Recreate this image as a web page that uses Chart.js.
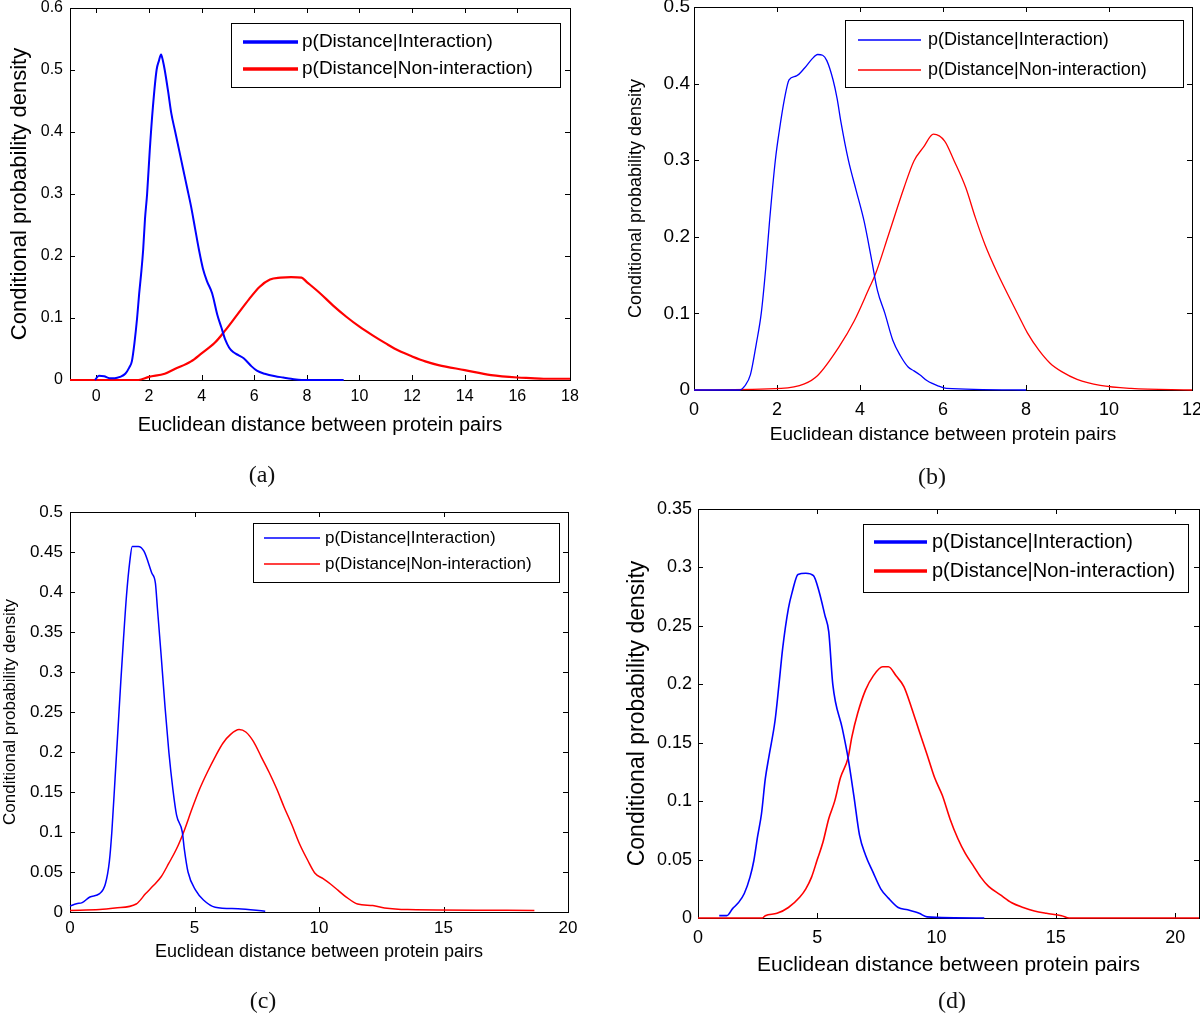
<!DOCTYPE html>
<html lang="en">
<head>
<meta charset="UTF-8">
<title>Conditional probability density of protein pair distances</title>
<script src="https://cdn.jsdelivr.net/npm/chart.js@4.4.1/dist/chart.umd.min.js"></script>
<style>
  html, body { margin: 0; padding: 0; background: #fff; overflow: hidden; }
  body { width: 1200px; height: 1020px; position: relative; }
  canvas { position: absolute; }
  .cap { position: absolute; font-family: "Liberation Serif", "Times New Roman", serif; font-size: 24px; color: #111; transform: translate(-50%, -50%); }
</style>
</head>
<body>
<canvas id="chart-a"></canvas>
<canvas id="chart-b"></canvas>
<canvas id="chart-c"></canvas>
<canvas id="chart-d"></canvas>
<div class="cap" style="left:262px;top:474px">(a)</div>
<div class="cap" style="left:932px;top:476px">(b)</div>
<div class="cap" style="left:263px;top:1000px">(c)</div>
<div class="cap" style="left:952px;top:1000px">(d)</div>

<script>
const LABEL_INT = 'p(Distance|Interaction)';
const LABEL_NON = 'p(Distance|Non-interaction)';
const X_TITLE = 'Euclidean distance between protein pairs';
const Y_TITLE = 'Conditional probability density';

// panel (a)
const aIntX = [-0.05, 0.1, 0.3, 0.5, 0.7, 0.9, 1.1, 1.25, 1.35, 1.45, 1.55, 1.63, 1.7, 1.78, 1.85, 1.93, 2.03, 2.15, 2.29, 2.38, 2.46, 2.53, 2.6, 2.73, 2.85, 3.0, 3.15, 3.3, 3.45, 3.6, 3.75, 3.9, 4.05, 4.2, 4.4, 4.6, 4.75, 4.9, 5.05, 5.2, 5.4, 5.6, 5.9, 6.1, 6.4, 6.8, 7.1, 7.4, 7.8, 8.5, 9.4];
const aIntY = [0, 0.007, 0.006, 0.003, 0.003, 0.005, 0.01, 0.02, 0.03, 0.06, 0.1, 0.14, 0.17, 0.21, 0.26, 0.3, 0.37, 0.44, 0.5, 0.515, 0.525, 0.515, 0.5, 0.465, 0.43, 0.4, 0.37, 0.34, 0.31, 0.28, 0.245, 0.21, 0.18, 0.16, 0.14, 0.105, 0.085, 0.065, 0.052, 0.045, 0.04, 0.035, 0.022, 0.015, 0.01, 0.006, 0.004, 0.002, 0, 0, 0];
const aNonX = [-1, 1.6, 2.0, 2.6, 3.0, 3.6, 4.0, 4.5, 4.9, 5.35, 5.8, 6.2, 6.6, 7.0, 7.4, 7.8, 8.0, 8.5, 9.0, 9.5, 10.0, 10.5, 11.0, 11.5, 12.0, 12.5, 13.0, 14.0, 15.0, 16.0, 16.5, 17.0, 18];
const aNonY = [0, 0, 0.005, 0.01, 0.018, 0.03, 0.043, 0.06, 0.08, 0.105, 0.13, 0.15, 0.162, 0.165, 0.166, 0.165, 0.158, 0.14, 0.12, 0.102, 0.086, 0.072, 0.059, 0.047, 0.038, 0.03, 0.024, 0.016, 0.008, 0.004, 0.003, 0.002, 0.002];
const aXTicks = [0, 2, 4, 6, 8, 10, 12, 14, 16, 18];
const aYTicks = [0, 0.1, 0.2, 0.3, 0.4, 0.5, 0.6];

// panel (b)
const bIntX = [0, 1.1, 1.22, 1.36, 1.5, 1.62, 1.73, 1.82, 1.96, 2.06, 2.18, 2.29, 2.47, 2.66, 2.84, 2.98, 3.1, 3.2, 3.35, 3.45, 3.54, 3.72, 3.91, 4.1, 4.28, 4.42, 4.6, 4.79, 4.97, 5.16, 5.3, 5.44, 5.62, 5.9, 6.08, 8.0];
const bIntY = [0, 0, 0.005, 0.02, 0.06, 0.1, 0.16, 0.22, 0.3, 0.34, 0.38, 0.405, 0.41, 0.42, 0.432, 0.438, 0.437, 0.43, 0.405, 0.38, 0.35, 0.3, 0.26, 0.22, 0.17, 0.13, 0.1, 0.065, 0.045, 0.03, 0.025, 0.02, 0.012, 0.005, 0.002, 0];
const bNonX = [0, 2.1, 2.66, 2.98, 3.49, 3.86, 4.23, 4.37, 4.69, 5.06, 5.3, 5.53, 5.77, 6.04, 6.27, 6.55, 6.78, 7.01, 7.29, 7.56, 7.84, 8.03, 8.31, 8.58, 8.86, 9.23, 9.79, 10.53, 12];
const bNonY = [0, 0.002, 0.008, 0.019, 0.056, 0.09, 0.134, 0.151, 0.203, 0.264, 0.299, 0.317, 0.334, 0.325, 0.299, 0.264, 0.225, 0.19, 0.155, 0.125, 0.095, 0.075, 0.052, 0.035, 0.024, 0.014, 0.006, 0.002, 0];
const bXTicks = [0, 2, 4, 6, 8, 10, 12];
const bYTicks = [0, 0.1, 0.2, 0.3, 0.4, 0.5];

// panel (c)
const cIntX = [0, 0.26, 0.49, 0.8, 1.19, 1.42, 1.58, 1.68, 1.81, 1.93, 2.04, 2.15, 2.27, 2.4, 2.5, 2.74, 2.97, 3.28, 3.43, 3.51, 3.66, 3.82, 3.97, 4.13, 4.28, 4.51, 4.59, 4.74, 5.05, 5.36, 5.83, 6.75, 7.84];
const cIntY = [0.0075, 0.0104, 0.0117, 0.0188, 0.023, 0.035, 0.063, 0.1, 0.167, 0.23, 0.288, 0.342, 0.396, 0.438, 0.457, 0.457, 0.451, 0.424, 0.411, 0.38, 0.321, 0.255, 0.2, 0.154, 0.121, 0.1, 0.079, 0.05, 0.027, 0.015, 0.006, 0.004, 0.001];
const cNonX = [0, 1.19, 1.81, 2.66, 3.04, 3.35, 3.66, 3.97, 4.28, 4.59, 4.9, 5.21, 5.52, 5.83, 6.14, 6.45, 6.79, 7.06, 7.37, 7.68, 7.99, 8.3, 8.6, 8.91, 9.22, 9.54, 9.85, 10.15, 10.46, 10.77, 11.08, 11.55, 12.16, 12.63, 13.56, 18.65];
const cNonY = [0.002, 0.003, 0.005, 0.01, 0.023, 0.033, 0.044, 0.061, 0.079, 0.102, 0.129, 0.154, 0.175, 0.194, 0.211, 0.222, 0.228, 0.225, 0.213, 0.194, 0.175, 0.154, 0.131, 0.109, 0.085, 0.065, 0.048, 0.042, 0.035, 0.027, 0.019, 0.01, 0.008, 0.005, 0.003, 0.002];
const cXTicks = [0, 5, 10, 15, 20];
const cYTicks = [0, 0.05, 0.1, 0.15, 0.2, 0.25, 0.3, 0.35, 0.4, 0.45, 0.5];

// panel (d)
const dIntX = [0.89, 1.21, 1.45, 1.69, 1.94, 2.18, 2.34, 2.5, 2.66, 2.82, 2.98, 3.23, 3.39, 3.55, 3.79, 3.95, 4.19, 4.52, 4.84, 5.08, 5.32, 5.48, 5.65, 6.05, 6.29, 6.53, 6.77, 7.02, 7.34, 7.66, 7.98, 8.39, 8.79, 9.27, 9.6, 12];
const dIntY = [0.002, 0.002, 0.008, 0.013, 0.021, 0.035, 0.049, 0.07, 0.089, 0.119, 0.139, 0.169, 0.199, 0.231, 0.265, 0.279, 0.294, 0.295, 0.293, 0.279, 0.259, 0.245, 0.2, 0.162, 0.137, 0.105, 0.071, 0.054, 0.039, 0.025, 0.017, 0.009, 0.007, 0.004, 0.001, 0];
const dNonX = [0, 2.7, 2.82, 3.31, 3.79, 4.27, 4.52, 4.76, 5.0, 5.24, 5.48, 5.73, 5.97, 6.29, 6.45, 6.69, 7.02, 7.34, 7.74, 7.98, 8.31, 8.63, 8.95, 9.27, 9.6, 9.92, 10.24, 10.56, 10.89, 11.21, 11.53, 11.85, 12.18, 12.66, 13.15, 13.63, 14.1, 14.6, 15.24, 15.56, 21];
const dNonY = [0, 0, 0.002, 0.004, 0.009, 0.018, 0.025, 0.035, 0.05, 0.065, 0.085, 0.1, 0.12, 0.137, 0.155, 0.175, 0.195, 0.207, 0.215, 0.215, 0.207, 0.198, 0.18, 0.16, 0.14, 0.12, 0.105, 0.085, 0.068, 0.055, 0.045, 0.035, 0.027, 0.02, 0.013, 0.009, 0.006, 0.004, 0.002, 0, 0];
const dXTicks = [0, 5, 10, 15, 20];
const dYTicks = [0, 0.05, 0.1, 0.15, 0.2, 0.25, 0.3, 0.35];

const FONT = '"Liberation Sans", Arial, sans-serif';

function pts(xs, ys) {
    return xs.map((x, i) => ({ x: x, y: ys[i] }));
}

function fmt(v) {
    return String(Math.round(v * 1000) / 1000);
}

// matlab style box with inward ticks on all four sides
const framePlugin = {
    id: 'frame',
    beforeDatasetsDraw(chart) {
        const ctx = chart.ctx;
        const a = chart.chartArea;
        const xs = chart.scales.x, ys = chart.scales.y;
        const t = 5;
        ctx.save();
        ctx.strokeStyle = '#000';
        ctx.lineWidth = 1;
        ctx.strokeRect(Math.round(a.left) + 0.5, Math.round(a.top) + 0.5,
            Math.round(a.right - a.left), Math.round(a.bottom - a.top));
        ctx.beginPath();
        xs.ticks.forEach(tk => {
            const px = Math.round(xs.getPixelForValue(tk.value)) + 0.5;
            ctx.moveTo(px, a.bottom); ctx.lineTo(px, a.bottom - t);
            ctx.moveTo(px, a.top); ctx.lineTo(px, a.top + t);
        });
        ys.ticks.forEach(tk => {
            const py = Math.round(ys.getPixelForValue(tk.value)) + 0.5;
            ctx.moveTo(a.left, py); ctx.lineTo(a.left + t, py);
            ctx.moveTo(a.right, py); ctx.lineTo(a.right - t, py);
        });
        ctx.stroke();
        ctx.restore();
    }
};

// legend drawn inside the plot with a black box
const boxLegendPlugin = {
    id: 'boxLegend',
    afterDraw(chart, args, o) {
        const ctx = chart.ctx;
        ctx.save();
        ctx.fillStyle = '#fff';
        ctx.fillRect(o.box[0], o.box[1], o.box[2] - o.box[0], o.box[3] - o.box[1]);
        ctx.strokeStyle = '#000';
        ctx.lineWidth = 1;
        ctx.strokeRect(o.box[0] + 0.5, o.box[1] + 0.5, o.box[2] - o.box[0], o.box[3] - o.box[1]);
        ctx.font = o.size + 'px ' + FONT;
        ctx.textBaseline = 'middle';
        ctx.textAlign = 'left';
        chart.data.datasets.forEach((ds, i) => {
            const yy = o.rows[i];
            ctx.strokeStyle = ds.borderColor;
            ctx.lineWidth = o.lineWidth;
            ctx.beginPath();
            ctx.moveTo(o.line[0], yy);
            ctx.lineTo(o.line[1], yy);
            ctx.stroke();
            ctx.fillStyle = '#000';
            ctx.fillText(ds.label, o.textX, yy);
        });
        ctx.restore();
    }
};

function makePanel(p) {
    const canvas = document.getElementById(p.id);
    const [ox, oy, w, h] = p.canvas;
    canvas.width = w;
    canvas.height = h;
    canvas.style.left = ox + 'px';
    canvas.style.top = oy + 'px';
    const L = p.area[0] - ox, T = p.area[1] - oy, R = p.area[2] - ox, B = p.area[3] - oy;
    const xLh = p.xTitleSize * 1.2, yLh = p.yTitleSize * 1.2, xtLh = p.xTickSize * 1.2;
    const lineStyle = { pointRadius: 0, cubicInterpolationMode: 'monotone', fill: false, clip: false };

    new Chart(canvas, {
        type: 'line',
        data: {
            datasets: [
                Object.assign({ label: LABEL_INT, data: pts(p.intX, p.intY), borderColor: '#0000ff', borderWidth: p.lw[0] }, lineStyle),
                Object.assign({ label: LABEL_NON, data: pts(p.nonX, p.nonY), borderColor: '#ff0000', borderWidth: p.lw[1] }, lineStyle)
            ]
        },
        options: {
            responsive: false,
            animation: false,
            events: [],
            layout: { padding: { left: 0, top: T, right: w - R, bottom: 0 } },
            plugins: {
                legend: { display: false },
                tooltip: { enabled: false },
                boxLegend: {
                    box: [p.legend.box[0] - ox, p.legend.box[1] - oy, p.legend.box[2] - ox, p.legend.box[3] - oy],
                    line: [p.legend.line[0] - ox, p.legend.line[1] - ox],
                    rows: p.legend.rows.map(r => r - oy),
                    textX: p.legend.textX - ox,
                    size: p.legend.size,
                    lineWidth: p.legend.lineWidth
                }
            },
            scales: {
                x: {
                    type: 'linear',
                    min: p.xRange[0],
                    max: p.xRange[1],
                    grid: { display: false, drawTicks: false },
                    border: { display: false },
                    afterBuildTicks: s => { s.ticks = p.xTicks.map(v => ({ value: v })); },
                    afterFit: s => { s.height = h - B; },
                    ticks: {
                        color: '#000', autoSkip: false, maxRotation: 0,
                        padding: p.xTickY - p.area[3] - xtLh / 2,
                        font: { family: FONT, size: p.xTickSize },
                        callback: v => fmt(v)
                    },
                    title: {
                        display: true, text: X_TITLE, color: '#000',
                        font: { family: FONT, size: p.xTitleSize },
                        padding: { top: 0, bottom: (oy + h) - p.xTitleY - xLh / 2 }
                    }
                },
                y: {
                    type: 'linear',
                    min: p.yRange[0],
                    max: p.yRange[1],
                    grid: { display: false, drawTicks: false },
                    border: { display: false },
                    afterBuildTicks: s => { s.ticks = p.yTicks.map(v => ({ value: v })); },
                    afterFit: s => { s.width = L; },
                    ticks: {
                        color: '#000', autoSkip: false,
                        padding: p.yTickPad,
                        font: { family: FONT, size: p.yTickSize },
                        callback: v => fmt(v)
                    },
                    title: {
                        display: true, text: Y_TITLE, color: '#000',
                        font: { family: FONT, size: p.yTitleSize },
                        padding: { top: Math.max(p.yTitleX - ox - yLh / 2, 0), bottom: 0 }
                    }
                }
            }
        },
        plugins: [framePlugin, boxLegendPlugin]
    });
}

makePanel({
    id: 'chart-a', canvas: [0, -20, 600, 510], area: [70, 8, 570, 380],
    intX: aIntX, intY: aIntY, nonX: aNonX, nonY: aNonY, lw: [2, 2.2],
    xRange: [-1, 18], yRange: [0, 0.6], xTicks: aXTicks, yTicks: aYTicks,
    xTickSize: 16, xTickY: 397, yTickSize: 16, yTickPad: 7,
    xTitleSize: 20, xTitleY: 425, yTitleSize: 22, yTitleX: 20,
    legend: { box: [231, 23, 560, 87], line: [243, 298], rows: [42, 69], textX: 302, size: 19, lineWidth: 3.5 }
});

makePanel({
    id: 'chart-b', canvas: [600, -20, 620, 510], area: [694, 7, 1192, 390],
    intX: bIntX, intY: bIntY, nonX: bNonX, nonY: bNonY, lw: [1.3, 1.3],
    xRange: [0, 12], yRange: [0, 0.5], xTicks: bXTicks, yTicks: bYTicks,
    xTickSize: 18, xTickY: 410, yTickSize: 19, yTickPad: 4,
    xTitleSize: 19, xTitleY: 435, yTitleSize: 18, yTitleX: 636,
    legend: { box: [845, 20, 1183, 87], line: [858, 921], rows: [40, 70], textX: 928, size: 18, lineWidth: 1.5 }
});

makePanel({
    id: 'chart-c', canvas: [0, 480, 600, 530], area: [70, 512, 568, 912],
    intX: cIntX, intY: cIntY, nonX: cNonX, nonY: cNonY, lw: [1.5, 1.5],
    xRange: [0, 20], yRange: [0, 0.5], xTicks: cXTicks, yTicks: cYTicks,
    xTickSize: 17, xTickY: 928, yTickSize: 17, yTickPad: 7,
    xTitleSize: 18, xTitleY: 952, yTitleSize: 17, yTitleX: 9,
    legend: { box: [253, 523, 559, 582], line: [264, 320], rows: [538, 564], textX: 325, size: 17, lineWidth: 1.5 }
});

makePanel({
    id: 'chart-d', canvas: [600, 480, 620, 530], area: [698, 509, 1199, 918],
    intX: dIntX, intY: dIntY, nonX: dNonX, nonY: dNonY, lw: [1.6, 1.6],
    xRange: [0, 21], yRange: [0, 0.35], xTicks: dXTicks, yTicks: dYTicks,
    xTickSize: 18, xTickY: 938, yTickSize: 18, yTickPad: 6,
    xTitleSize: 21, xTitleY: 965, yTitleSize: 23, yTitleX: 638,
    legend: { box: [863, 524, 1188, 592], line: [874, 927], rows: [542, 571], textX: 932, size: 20, lineWidth: 3.5 }
});
</script>
</body>
</html>
